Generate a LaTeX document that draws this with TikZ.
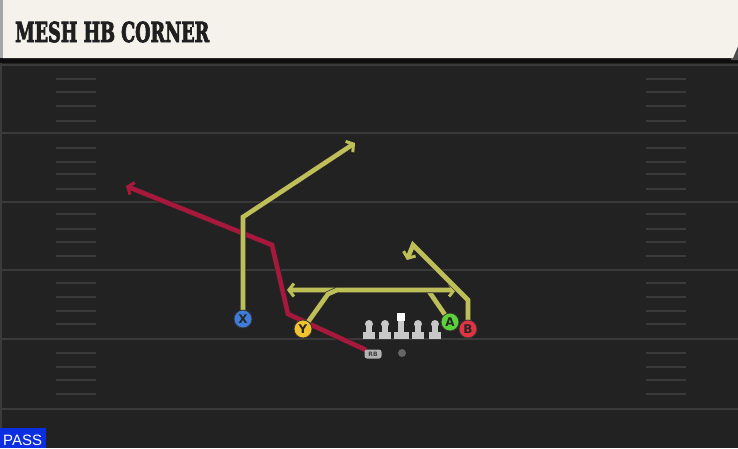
\documentclass[tikz,border=0pt]{standalone}
\usepackage{fontspec}
\setmainfont{DejaVu Sans}
\newfontfamily\titlefont{DejaVu Serif Bold}[FakeBold=3.5]
\newfontfamily\passfont{Liberation Sans}
\usetikzlibrary{arrows.meta}
\definecolor{fieldbg}{HTML}{222222}
\definecolor{yardln}{HTML}{3A3A3A}
\definecolor{hdrbg}{HTML}{F4F2EB}
\definecolor{routeY}{HTML}{BFBF5A}
\definecolor{routeR}{HTML}{A8183C}
\definecolor{passblue}{HTML}{0B2FE0}
\definecolor{olgray}{HTML}{C8C8C8}
\definecolor{pX}{HTML}{3F7BD8}
\definecolor{pY}{HTML}{F2C230}
\definecolor{pA}{HTML}{5CD23A}
\definecolor{pB}{HTML}{E23342}
\tikzset{
  yardline/.style={draw=yardln, line width=2pt},
  hashmark/.style={draw=yardln, line width=1.6pt},
  route/.style={line width=4.6pt, line join=miter, line cap=butt,
    -{Straight Barb[length=5pt,width=13pt,line width=3pt]},
    preaction={draw=black!85, line width=6pt, -}},
  yroute/.style={route, draw=routeY},
  rroute/.style={route, draw=routeR},
  player/.style={circle, draw=black!80, line width=0.8pt, minimum size=18pt, inner sep=0pt,
    font=\bfseries\fontsize{12}{12}\selectfont, text=black!85},
  lineman/.style={fill=olgray}
}
\begin{document}
\begin{tikzpicture}[x=1pt,y=-1pt]
\useasboundingbox (0,0) rectangle (738,448);
% field
\fill[fieldbg] (0,58) rectangle (738,448);
\fill[black!60!fieldbg] (0,58) rectangle (738,63);
\fill[yardln] (0,63) rectangle (2,448);
% yard lines
\foreach \y in {65,133,202,270,339,409} \draw[yardline] (0,\y) -- (738,\y);
% hash marks
\foreach \y in {79,92,106,121,148,162,174,189,214,229,242,256,283,297,311,324,353,367,380,394} {
  \draw[hashmark] (56,\y) -- (96,\y);
  \draw[hashmark] (646,\y) -- (686,\y);
}
% header
\fill[black!70] (734,40) -- (738,40) -- (738,60) -- (731,60) -- cycle;
\fill[hdrbg] (3,0) -- (738,0) -- (738,46) -- (733,58) -- (3,58) -- cycle;
\fill[gray!70] (0,0) rectangle (3,58);
\node[anchor=base west, inner sep=0pt, text=black!88] (title) at (15,42)
  {\scalebox{0.64}[1]{\titlefont\fontsize{27.5}{27.5}\selectfont MESH HB CORNER}};
% pass label
\fill[passblue] (0,428) rectangle (46,448);
\node[anchor=base west, inner sep=0pt, text=white] (pass) at (3,445)
  {\passfont\fontsize{15}{15}\selectfont PASS};
% player positions
\coordinate (cX) at (243,319);
\coordinate (cY) at (303,329);
\coordinate (cA) at (450,322);
\coordinate (cB) at (468,329);
\coordinate (cRB) at (373,354);
% route waypoints
\coordinate (x1) at (243,217);
\coordinate (x2) at (355,143);
\coordinate (y1) at (328,294);
\coordinate (y2) at (337,290);
\coordinate (y3) at (456,290);
\coordinate (a1) at (428,290);
\coordinate (a2) at (287,290);
\coordinate (b1) at (468,300);
\coordinate (b2) at (413,245);
\coordinate (b3) at (407,260);
\coordinate (r0) at (366,350);
\coordinate (r1) at (288,314);
\coordinate (r2) at (272,245);
\coordinate (r3) at (126,186);
% routes
\draw[rroute] (r0) -- (r1) -- (r2) -- (r3);
\draw[yroute] (cX) -- (x1) -- (x2);
\draw[yroute] (cA) -- (a1) -- (a2);
\draw[yroute] (cY) -- (y1) -- (y2) -- (y3);
\draw[yroute] (cB) -- (b1) -- (b2) -- (b3);
% offensive line
\foreach \x/\n in {369/lt,385/lg,418/rg,435/rt} {
  \fill[lineman] (\x-6,332) rectangle (\x+6,338.5);
  \fill[lineman] (\x-2.8,324) rectangle (\x+2.8,333);
  \node[circle, fill=olgray, inner sep=0pt, minimum size=8pt] (\n) at (\x,324) {};
}
\fill[lineman] (401-7.5,332) rectangle (401+7.5,338.5);
\fill[lineman] (401-2.8,320) rectangle (401+2.8,333);
\node[fill=white, inner sep=0pt, minimum size=8.5pt] (c) at (401,317) {};
% QB dot
\node[circle, fill=gray!80!black, inner sep=0pt, minimum size=8pt] (qb) at (402,353) {};
% RB
\node[fill=gray!60, rounded corners=2.5pt, inner sep=0pt, minimum width=17pt, minimum height=9pt,
  font=\bfseries\fontsize{6}{6}\selectfont, text=black!75] (RB) at (cRB) {RB};
% receivers
\node[player, fill=pX] (X) at (cX) {X};
\node[player, fill=pY] (Y) at (cY) {Y};
\node[player, fill=pA] (A) at (cA) {A};
\node[player, fill=pB] (B) at (cB) {B};
\end{tikzpicture}
\end{document}
